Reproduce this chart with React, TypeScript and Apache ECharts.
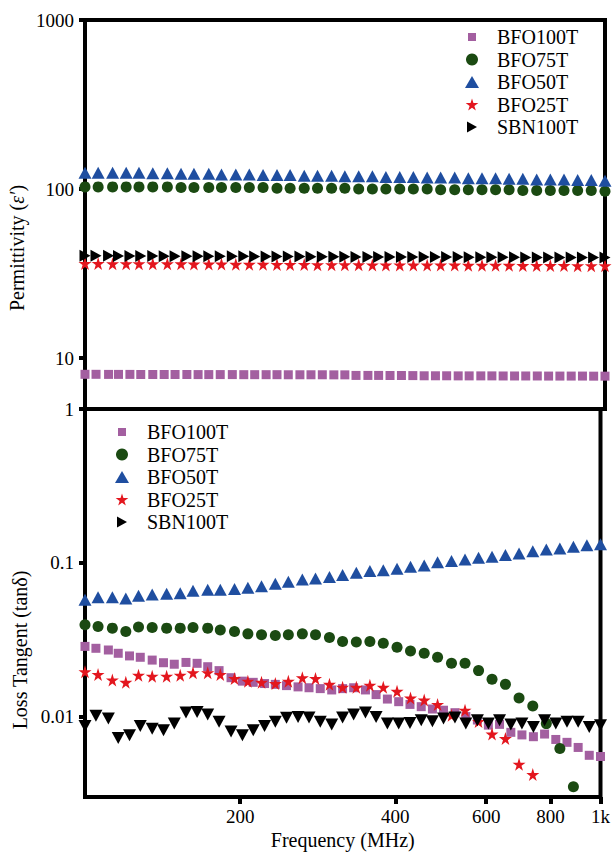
import React, { useEffect, useRef } from 'react';
import * as echarts from 'echarts';

// Frequencies (MHz) of the two sweeps
const freqA = [100, 106, 113, 120, 127, 135, 144, 153, 162, 173, 183, 195, 207, 220, 234, 248, 264, 280, 298, 316, 336, 357, 379, 403, 428, 455, 483, 514, 546, 580, 616, 654, 695, 739, 785, 834, 886, 941, 1000];
const freqB = [100, 105, 111, 116, 122, 128, 135, 142, 149, 157, 165, 173, 182, 192, 202, 212, 223, 234, 246, 259, 272, 286, 301, 316, 332, 350, 367, 386, 406, 427, 449, 472, 496, 522, 548, 577, 606, 637, 670, 704, 741, 779, 819, 861, 905, 951, 1000];

const seriesNames = ['BFO100T', 'BFO75T', 'BFO50T', 'BFO25T', 'SBN100T'];

// Permittivity (top panel)
const permBFO100T = [8.02, 8.02, 8.01, 8.01, 8.01, 8.0, 8.0, 8.0, 8.0, 8.0, 7.99, 7.99, 7.99, 7.99, 7.98, 7.98, 7.98, 7.98, 7.97, 7.97, 7.97, 7.97, 7.96, 7.96, 7.9, 7.9, 7.9, 7.89, 7.89, 7.88, 7.86, 7.86, 7.86, 7.85, 7.85, 7.85, 7.85, 7.84, 7.84, 7.84, 7.84, 7.83, 7.83, 7.83, 7.83, 7.82, 7.82];
const permBFO75T = [103, 103, 103, 103, 103, 103, 103, 102, 102, 102, 102, 102, 102, 102, 101, 101, 101, 101, 101, 101, 100, 100, 100, 100, 100, 100, 99, 99, 99, 99, 99, 99, 98, 98, 98, 98, 98, 98, 97];
const permBFO50T = [125, 125, 125, 125, 125, 124, 124, 123, 123, 123, 122, 122, 122, 121, 121, 121, 120, 120, 120, 119, 119, 119, 118, 118, 118, 117, 117, 117, 116, 116, 116, 115, 115, 114, 114, 114, 113, 113, 112];
const permBFO25T = [36.3, 36.3, 36.2, 36.2, 36.2, 36.1, 36.1, 36.1, 36.0, 36.0, 36.0, 35.9, 35.9, 35.9, 35.8, 35.8, 35.8, 35.7, 35.7, 35.7, 35.7, 35.6, 35.6, 35.6, 35.5, 35.5, 35.5, 35.5, 35.4, 35.4, 35.4, 35.4, 35.3, 35.3, 35.3, 35.3, 35.2, 35.2, 35.2];
const permSBN100T = [40.3, 40.3, 40.3, 40.2, 40.2, 40.2, 40.2, 40.1, 40.1, 40.1, 40.1, 40.0, 40.0, 40.0, 40.0, 39.9, 39.9, 39.9, 39.9, 39.9, 39.8, 39.8, 39.8, 39.8, 39.7, 39.7, 39.7, 39.7, 39.7, 39.6, 39.6, 39.6, 39.6, 39.6, 39.5, 39.5, 39.5, 39.5, 39.5, 39.4, 39.4, 39.4, 39.4, 39.4, 39.3, 39.3, 39.3];

// Loss tangent (bottom panel)
const lossBFO100T = [0.0286, 0.0278, 0.0271, 0.0258, 0.0248, 0.0243, 0.0233, 0.0224, 0.0219, 0.0225, 0.0222, 0.0211, 0.0199, 0.0179, 0.0170, 0.0167, 0.0164, 0.0162, 0.0159, 0.0156, 0.0154, 0.0152, 0.0149, 0.0152, 0.0154, 0.0149, 0.0139, 0.0130, 0.0125, 0.0120, 0.0116, 0.0112, 0.0110, 0.0106, 0.0100, 0.0095, 0.0088, 0.0089, 0.0079, 0.0076, 0.0074, 0.0077, 0.0071, 0.0068, 0.0063, 0.0056, 0.0055];
const lossBFO75T = [0.0395, 0.0385, 0.0376, 0.0358, 0.0382, 0.0380, 0.0376, 0.0376, 0.0380, 0.0376, 0.0366, 0.0358, 0.0345, 0.0340, 0.0337, 0.0340, 0.0345, 0.0340, 0.0327, 0.0308, 0.0305, 0.0308, 0.0300, 0.0282, 0.0267, 0.0258, 0.0243, 0.0222, 0.0222, 0.0199, 0.0175, 0.0162, 0.0132, 0.0117, 0.0090, 0.0062, 0.0035, null, null];
const lossBFO50T = [0.0575, 0.0597, 0.0597, 0.0585, 0.0611, 0.0621, 0.0630, 0.0634, 0.0659, 0.0669, 0.0669, 0.0676, 0.0687, 0.0705, 0.0730, 0.0752, 0.0778, 0.0789, 0.0807, 0.0832, 0.0861, 0.0883, 0.0896, 0.0914, 0.0941, 0.0960, 0.101, 0.1026, 0.105, 0.108, 0.1094, 0.1122, 0.115, 0.119, 0.122, 0.124, 0.127, 0.130, 0.132];
const lossBFO25T = [0.0196, 0.0188, 0.0173, 0.0167, 0.0186, 0.0183, 0.0183, 0.0186, 0.0193, 0.0193, 0.0188, 0.0177, 0.0170, 0.0167, 0.0164, 0.0170, 0.0179, 0.0177, 0.0162, 0.0155, 0.0155, 0.0160, 0.0155, 0.0146, 0.0132, 0.0128, 0.0120, 0.0102, 0.0110, 0.0093, 0.0077, 0.0072, 0.0049, 0.0042, null, null, null, null, null];
const lossSBN100T = [0.00869, 0.01011, 0.00970, 0.00726, 0.00755, 0.00869, 0.00835, 0.00814, 0.00900, 0.01062, 0.01073, 0.01031, 0.00924, 0.00801, 0.00755, 0.00814, 0.00869, 0.00924, 0.00981, 0.00995, 0.00985, 0.00924, 0.00887, 0.00985, 0.01031, 0.01062, 0.00995, 0.00900, 0.00900, 0.00910, 0.00946, 0.00932, 0.00970, 0.00985, 0.00900, 0.00946, 0.00900, 0.00946, 0.00887, 0.00900, 0.00856, 0.00946, 0.00900, 0.00924, 0.00924, 0.00856, 0.00877];

// Tick labels
const xTicks = [200, 400, 600, 800, 1000];
const xTickLabels = ['200', '400', '600', '800', '1k'];
const permTicks = [10, 100, 1000];
const permTickLabels = ['10', '100', '1000'];
const lossTicks = [0.01, 0.1, 1];
const lossTickLabels = ['0.01', '0.1', '1'];

const FONT = 'Liberation Serif';
const COLORS: Record<string, string> = {
  BFO100T: '#A35FA0',
  BFO75T: '#1B4A12',
  BFO50T: '#1F4EA0',
  BFO25T: '#E3161E',
  SBN100T: '#000000',
};
const STAR = 'path://M50,0L61,35L98,35L68,57L79,91L50,70L21,91L32,57L2,35L39,35Z';
const RIGHT_TRI = 'path://M0,0L10,5L0,10Z';
const DOWN_TRI = 'path://M0,0L10,0L5,10Z';

const LEGEND_ICONS: Record<string, string> = {
  BFO100T: 'path://M0,0M12,12M2,2H10V10H2Z',
  BFO75T: 'circle',
  BFO50T: 'path://M0,0M14,12M7,0L14,12L0,12Z',
  BFO25T: STAR,
  SBN100T: 'path://M0,0M12,12M1,0.5L11,6L1,11.5Z',
};

function pts(xs: number[], ys: (number | null)[]) {
  const out: number[][] = [];
  xs.forEach((x, i) => {
    const y = ys[i];
    if (y !== null && y !== undefined) out.push([x, y]);
  });
  return out;
}

const labelFor = (ticks: number[], labels: string[]) => (v: number) => {
  let best = 0;
  let bd = Infinity;
  ticks.forEach((t, i) => {
    const d = Math.abs(Math.log10(v) - Math.log10(t));
    if (d < bd) { bd = d; best = i; }
  });
  return labels[best];
};

export default function App() {
  const ref = useRef<HTMLDivElement>(null);
  useEffect(() => {
    if (!ref.current) return;
    const chart = echarts.init(ref.current, undefined, { renderer: 'svg' });

    const legendBase = (left: number, top: number) => ({
      orient: 'vertical',
      left,
      top,
      padding: 0,
      itemGap: 2.5,
      itemWidth: 40,
      itemHeight: 12,
      symbolKeepAspect: true,
      textStyle: { fontFamily: FONT, fontSize: 20, lineHeight: 20, color: '#000' },
      data: seriesNames.map((n) => ({ name: n, icon: LEGEND_ICONS[n], itemStyle: { color: COLORS[n] } })),
    });

    const yCommon = {
      type: 'log',
      logBase: 10,
      axisLine: { show: false },
      splitLine: { show: false },
      minorTick: { show: false },
    };

    const mk = (name: string, xIdx: number, data: number[][], symbol: string, size: any) => ({
      name,
      type: 'scatter',
      xAxisIndex: xIdx,
      yAxisIndex: xIdx,
      data,
      symbol,
      symbolSize: size,
      itemStyle: { color: COLORS[name], opacity: 1 },
      clip: false,
    });

    const option: any = {
      animation: false,
      backgroundColor: '#ffffff',
      textStyle: { fontFamily: FONT },
      grid: [
        { left: 85, top: 20, width: 520, height: 389, show: true, borderWidth: 4, borderColor: '#000', backgroundColor: 'transparent' },
        { left: 85, top: 409, width: 520, height: 388, show: true, borderWidth: 4, borderColor: '#000', backgroundColor: 'transparent' },
      ],
      legend: [legendBase(465, 27), legendBase(115, 422)],
      graphic: [
        {
          type: 'text',
          x: 17,
          y: 248,
          rotation: Math.PI / 2,
          style: {
            text: '{n|Permittivity (}{i|ε′}{n|)}',
            fontFamily: FONT,
            fontSize: 20,
            fill: '#000',
            align: 'center',
            verticalAlign: 'middle',
            rich: {
              n: { fontFamily: FONT, fontSize: 20, fill: '#000' },
              i: { fontFamily: FONT, fontSize: 20, fill: '#000', fontStyle: 'italic' },
            },
          },
        },
        {
          type: 'text',
          x: 20,
          y: 650,
          rotation: Math.PI / 2,
          style: {
            text: 'Loss Tangent (tanδ)',
            fontFamily: FONT,
            fontSize: 20,
            fill: '#000',
            align: 'center',
            verticalAlign: 'middle',
          },
        },
      ],
      xAxis: [
        { gridIndex: 0, type: 'log', logBase: 10, min: 100, max: 1000, show: false },
        {
          gridIndex: 1,
          type: 'log',
          logBase: 10,
          min: 100,
          max: 1000,
          axisLine: { show: false },
          splitLine: { show: false },
          minorTick: { show: false },
          axisTick: { show: true, customValues: xTicks, length: 7, inside: false, lineStyle: { width: 4, color: '#000' } },
          axisLabel: { customValues: xTicks, formatter: labelFor(xTicks, xTickLabels), fontFamily: FONT, fontSize: 19, color: '#000', margin: 10 },
          name: 'Frequency (MHz)',
          nameLocation: 'middle',
          nameGap: 33,
          nameTextStyle: { fontFamily: FONT, fontSize: 20, color: '#000' },
        },
      ],
      yAxis: [
        {
          ...yCommon,
          gridIndex: 0,
          min: 5,
          max: 1000,
          axisTick: { show: true, customValues: permTicks, length: 6, lineStyle: { width: 4, color: '#000' } },
          axisLabel: { customValues: permTicks, formatter: labelFor(permTicks, permTickLabels), fontFamily: FONT, fontSize: 19, color: '#000', margin: 11 },
        },
        {
          ...yCommon,
          gridIndex: 1,
          min: 0.003,
          max: 1,
          axisTick: { show: true, customValues: lossTicks, length: 6, lineStyle: { width: 4, color: '#000' } },
          axisLabel: { customValues: lossTicks, formatter: labelFor(lossTicks, lossTickLabels), fontFamily: FONT, fontSize: 19, color: '#000', margin: 11 },
        },
      ],
      series: [
        mk('BFO100T', 0, pts(freqB, permBFO100T), 'rect', 9),
        mk('BFO75T', 0, pts(freqA, permBFO75T), 'circle', 11),
        mk('BFO50T', 0, pts(freqA, permBFO50T), 'triangle', [13, 12]),
        mk('BFO25T', 0, pts(freqA, permBFO25T), STAR, 13),
        mk('SBN100T', 0, pts(freqB, permSBN100T), RIGHT_TRI, [11, 12]),
        mk('BFO100T', 1, pts(freqB, lossBFO100T), 'rect', 9),
        mk('BFO75T', 1, pts(freqA, lossBFO75T), 'circle', 11),
        mk('BFO50T', 1, pts(freqA, lossBFO50T), 'triangle', [13, 12]),
        mk('BFO25T', 1, pts(freqA, lossBFO25T), STAR, 13),
        mk('SBN100T', 1, pts(freqB, lossSBN100T), DOWN_TRI, [13, 12]),
      ],
    };
    chart.setOption(option);
    return () => chart.dispose();
  }, []);

  return (
    <div
      ref={ref}
      style={{ position: 'fixed', left: 0, top: 0, width: 613, height: 853, background: '#fff' }}
    />
  );
}
